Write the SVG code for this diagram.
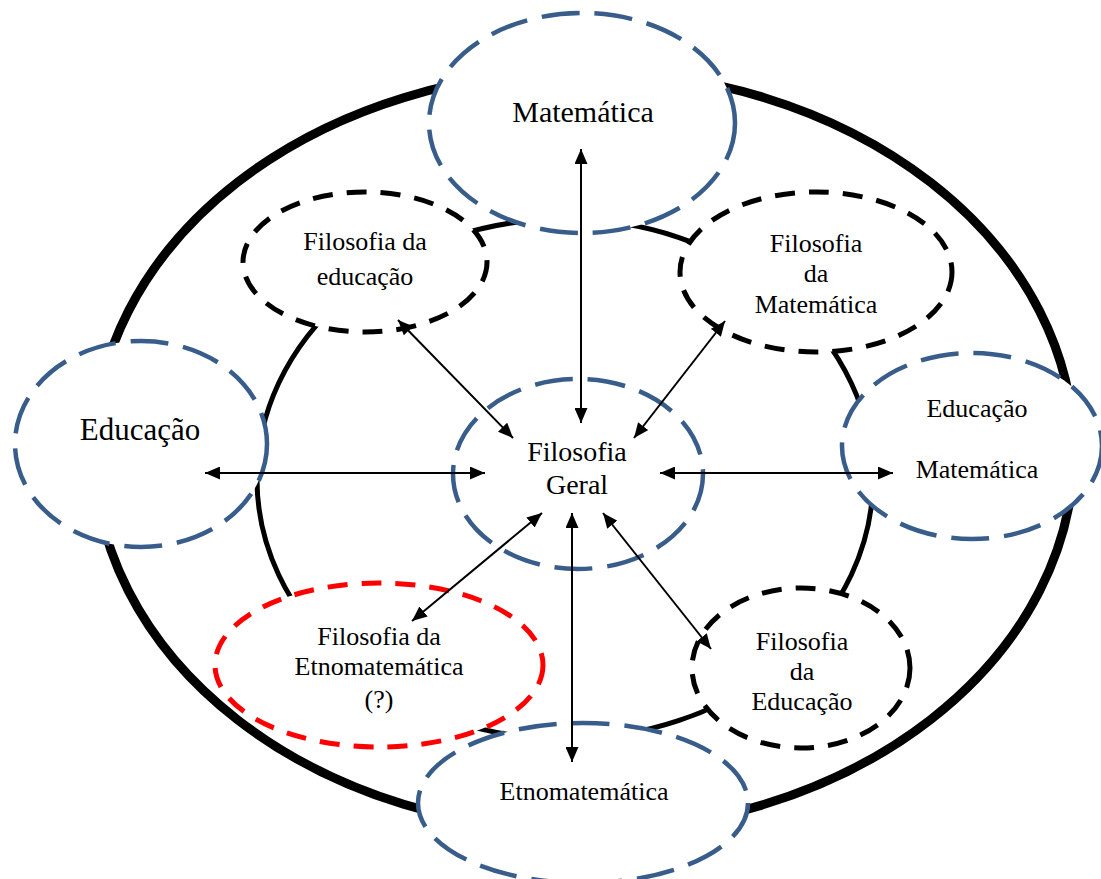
<svg xmlns="http://www.w3.org/2000/svg" width="1101" height="879" viewBox="0 0 1101 879">
<defs>
<marker id="ah" markerWidth="15" markerHeight="13" refX="15" refY="6.5" orient="auto-start-reverse" markerUnits="userSpaceOnUse"><path d="M0,0 L15,6.5 L0,13 z" fill="#000"/></marker>
<style>
.blue{fill:#fff;stroke:#385D8A;stroke-width:4.5;stroke-dasharray:38 15}
.blk{fill:#fff;stroke:#000;stroke-width:5;stroke-dasharray:20 14}
.red{fill:#fff;stroke:#f00;stroke-width:5;stroke-dasharray:20 14}
text{font-family:"Liberation Serif","Times New Roman",serif;fill:#000;text-anchor:middle}
.conn line{stroke:#000;stroke-width:2;marker-start:url(#ah);marker-end:url(#ah)}
</style>
</defs>
<rect width="1101" height="879" fill="#fff"/>
<g id="frame">
<ellipse cx="584" cy="451" rx="490" ry="380" fill="none" stroke="#000" stroke-width="9"/>
<ellipse cx="565" cy="479" rx="308" ry="260" fill="none" stroke="#000" stroke-width="5"/>
</g>
<g id="fil-educacao">
<ellipse class="blk" cx="365" cy="262" rx="122" ry="70"/>
<text x="365" y="250" font-size="26">Filosofia da</text>
<text x="365" y="285" font-size="26">educação</text>
</g>
<g id="fil-matematica">
<ellipse class="blk" cx="816" cy="272" rx="136" ry="80"/>
<text x="816" y="252" font-size="26">Filosofia</text>
<text x="816" y="282" font-size="26">da</text>
<text x="816" y="313" font-size="26">Matemática</text>
</g>
<g id="matematica">
<ellipse class="blue" cx="582" cy="123" rx="153" ry="110"/>
<text x="583" y="122" font-size="30">Matemática</text>
</g>
<g id="educacao">
<ellipse class="blue" cx="141" cy="444" rx="126" ry="103"/>
<text x="140" y="440" font-size="31">Educação</text>
</g>
<g id="educacao-matematica">
<ellipse class="blue" cx="972" cy="446" rx="130" ry="93"/>
<text x="977" y="417" font-size="26">Educação</text>
<text x="977" y="478" font-size="26">Matemática</text>
</g>
<g id="filosofia-geral">
<ellipse class="blue" cx="578" cy="474" rx="125" ry="95"/>
<text x="577" y="461" font-size="28">Filosofia</text>
<text x="577" y="494" font-size="28">Geral</text>
</g>
<g id="fil-etnomatematica">
<ellipse class="red" cx="379" cy="665" rx="164" ry="82"/>
<text x="379" y="645" font-size="26">Filosofia da</text>
<text x="379" y="675" font-size="26">Etnomatemática</text>
<text x="379" y="708" font-size="26">(?)</text>
</g>
<g id="fil-educacao2">
<ellipse class="blk" cx="801" cy="668" rx="109" ry="80"/>
<text x="802" y="650" font-size="26">Filosofia</text>
<text x="802" y="680" font-size="26">da</text>
<text x="802" y="710" font-size="26">Educação</text>
</g>
<g id="etnomatematica">
<ellipse class="blue" cx="583" cy="803" rx="165" ry="80"/>
<text x="584" y="800" font-size="26">Etnomatemática</text>
</g>
<g id="connectors" class="conn">
<line x1="581" y1="149" x2="581" y2="423"/>
<line x1="572" y1="513" x2="572" y2="762"/>
<line x1="205" y1="473" x2="485" y2="473"/>
<line x1="660" y1="473" x2="893" y2="473"/>
<line x1="398" y1="320" x2="513" y2="438"/>
<line x1="725" y1="321" x2="634" y2="438"/>
<line x1="542" y1="513" x2="412" y2="621"/>
<line x1="603" y1="513" x2="711" y2="649"/>
</g>
</svg>
